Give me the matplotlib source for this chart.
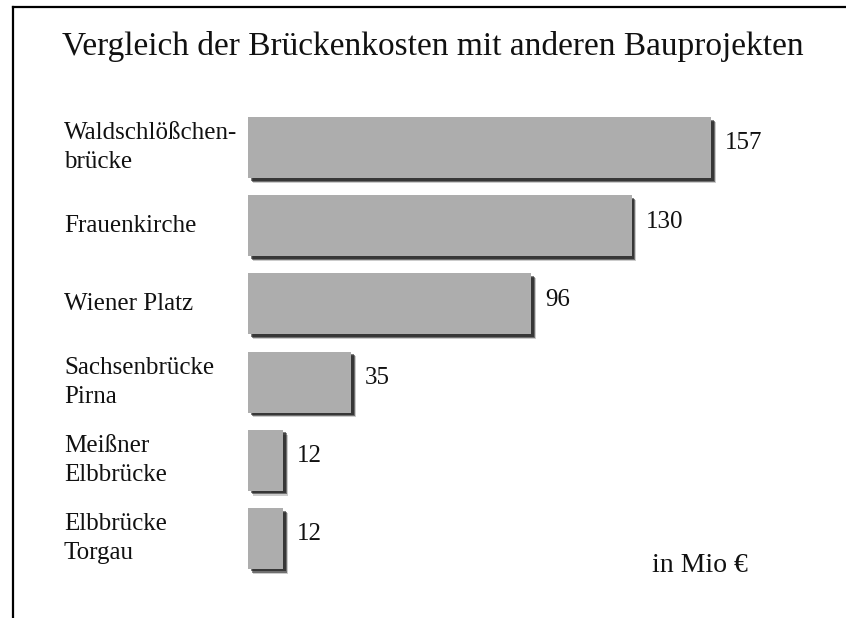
import matplotlib
matplotlib.use("Agg")
import matplotlib.pyplot as plt
import matplotlib.patheffects as pe
import matplotlib.transforms as mtransforms
from matplotlib.lines import Line2D

projekte = ["Waldschlößchen-\nbrücke", "Frauenkirche", "Wiener Platz",
            "Sachsenbrücke\nPirna", "Meißner\nElbbrücke", "Elbbrücke\nTorgau"]
kosten = [157, 130, 96, 35, 12, 12]
titel = "Vergleich der Brückenkosten mit anderen Bauprojekten"
einheit = "in Mio €"

plt.rcParams["font.family"] = ["Liberation Serif", "DejaVu Serif"]

W, H = 846, 618
fig = plt.figure(figsize=(W / 100, H / 100), dpi=100)

# axes placed in pixels: bars start at x=248, row centres 147..538
ax = fig.add_axes([248 / W, 1 - 577.6 / H, 590 / W, (577.6 - 108.5) / H])
ax.set_xlim(0, 200)
ax.set_ylim(len(kosten) - 0.5, -0.5)
ax.axis("off")

schatten = [pe.SimplePatchShadow(offset=(3.4, -3.4), shadow_rgbFace="k", alpha=0.2),
            pe.SimplePatchShadow(offset=(2.6, -2.6), shadow_rgbFace="k", alpha=0.45),
            pe.SimplePatchShadow(offset=(1.8, -1.8), shadow_rgbFace="k", alpha=0.5),
            pe.Normal()]
ypos = list(range(len(kosten)))
bars = ax.barh(ypos, kosten, height=0.78, color="#adadad", left=0)
for b in bars:
    b.set_path_effects(schatten)

for y, v in zip(ypos, kosten):
    ax.annotate(str(v), (v, y), xytext=(10, 3), textcoords="offset points",
                ha="left", va="center", fontsize=18, color="#111111")

lab_tr = mtransforms.blended_transform_factory(fig.transFigure, ax.transData)
for y, name in zip(ypos, projekte):
    ax.text(64 / W, y, name, transform=lab_tr, ha="left", va="center",
            fontsize=18, linespacing=1.42, color="#111111")

fig.text(62 / W, 1 - 47 / H, titel, ha="left", va="center", fontsize=24,
         color="#111111")
fig.text(652 / W, 1 - 565 / H, einheit, ha="left", va="center", fontsize=20,
         color="#111111")

# frame: top and left lines
fig.add_artist(Line2D([13 / W, 1], [1 - 7 / H, 1 - 7 / H], color="k", lw=1.6,
                      transform=fig.transFigure))
fig.add_artist(Line2D([13 / W, 13 / W], [0, 1 - 7 / H], color="k", lw=1.6,
                      transform=fig.transFigure))

fig.savefig("out.png", dpi=100)
